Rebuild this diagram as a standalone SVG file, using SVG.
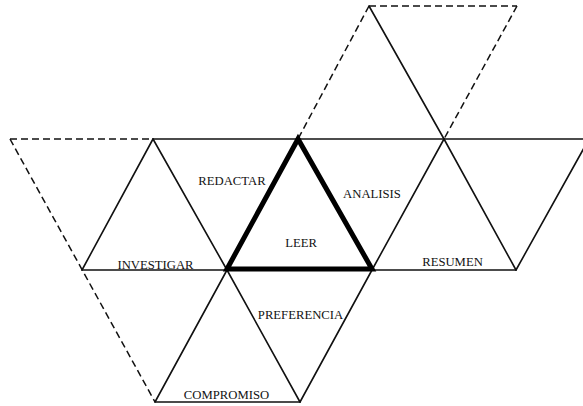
<svg xmlns="http://www.w3.org/2000/svg" width="583" height="406" viewBox="0 0 583 406">
<style>
.l{stroke:#111;stroke-width:1.6;fill:none;stroke-linecap:round}
.d{stroke:#111;stroke-width:1.5;fill:none;stroke-dasharray:7 4}
.t{stroke:#000;stroke-width:5;fill:none;stroke-linejoin:miter}
.x{font-family:"Liberation Serif","Times New Roman",serif;font-size:12.7px;fill:#111;text-anchor:middle}
</style>
<rect width="583" height="406" fill="#fff"/>
<g id="connectors">
<line class="d" x1="10" y1="139" x2="153" y2="139"/>
<line class="d" x1="10" y1="139" x2="155" y2="402"/>
<line class="d" x1="369" y1="6" x2="517" y2="6"/>
<line class="d" x1="369" y1="6" x2="298" y2="139"/>
<line class="d" x1="517" y1="6" x2="444" y2="139"/>
<line class="l" x1="153" y1="139" x2="583" y2="139"/>
<line class="l" x1="82" y1="270" x2="516" y2="270"/>
<line class="l" x1="153" y1="139" x2="82" y2="270"/>
<line class="l" x1="153" y1="139" x2="227" y2="270"/>
<line class="l" x1="369" y1="6" x2="444" y2="139"/>
<line class="l" x1="444" y1="139" x2="372" y2="270"/>
<line class="l" x1="444" y1="139" x2="516" y2="270"/>
<line class="l" x1="516" y1="270" x2="589" y2="139"/>
<line class="l" x1="227" y1="270" x2="155" y2="402"/>
<line class="l" x1="227" y1="270" x2="300" y2="402"/>
<line class="l" x1="372" y1="270" x2="300" y2="402"/>
<line class="l" x1="155" y1="402" x2="300" y2="402"/>
</g>
<g id="leer">
<polygon class="t" points="298,139 227,269 372,269"/>
<text class="x" x="301" y="247">LEER</text>
</g>
<g id="redactar"><text class="x" x="232" y="185">REDACTAR</text></g>
<g id="analisis"><text class="x" x="372" y="198">ANALISIS</text></g>
<g id="investigar"><text class="x" x="155.5" y="268.5">INVESTIGAR</text></g>
<g id="resumen"><text class="x" x="452.5" y="266">RESUMEN</text></g>
<g id="preferencia"><text class="x" x="300.5" y="319">PREFERENCIA</text></g>
<g id="compromiso"><text class="x" x="226.5" y="399">COMPROMISO</text></g>
</svg>
